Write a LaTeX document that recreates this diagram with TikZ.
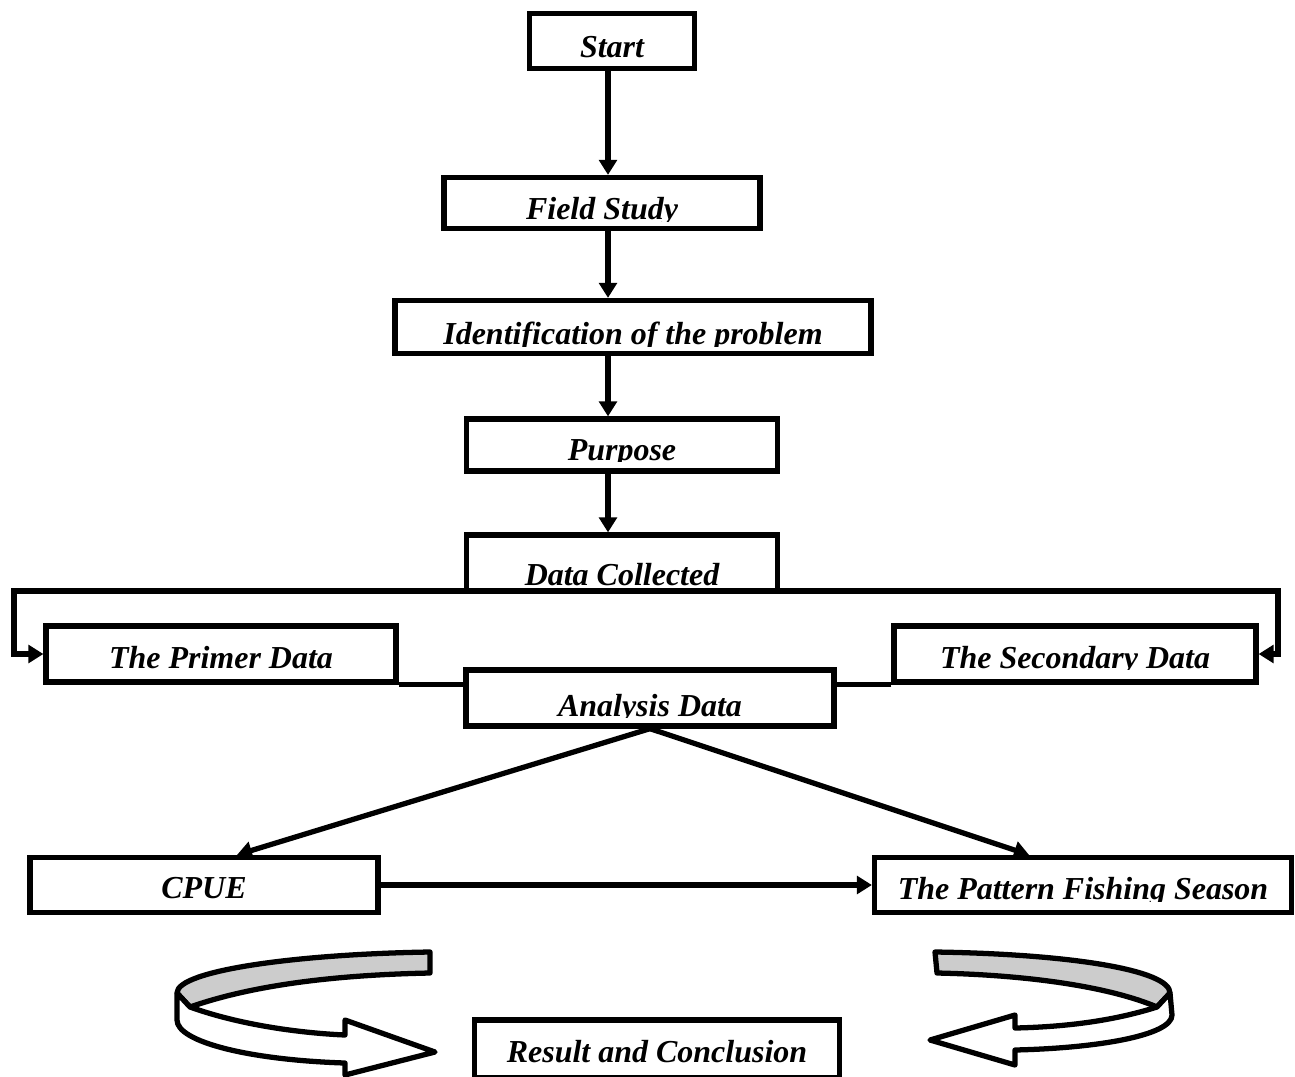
\documentclass[tikz,border=0pt]{standalone}
\usepackage{fontspec}
\setmainfont{Liberation Serif}
\usetikzlibrary{arrows.meta,calc}

\tikzset{
  stage/.style 2 args={draw, line width=3pt, inner sep=0pt, path picture={
      \node (stage-label) [anchor=base] at ([yshift=#2]path picture bounding box.south) {#1};
      \fill[white] (path picture bounding box.south west)
        rectangle ([yshift=#2-0.04cm]path picture bounding box.south east);}},
  flow/.style={line width=3pt, -{Triangle[length=8.5pt,width=10pt]}},
  link/.style={line width=3pt},
  turn/.style={line width=3pt, line join=round},
}

\begin{document}
\begin{tikzpicture}[x=0.02cm, y=-0.02cm, font=\fontsize{18.2}{21}\selectfont\bfseries\itshape]
  \useasboundingbox (0,0) rectangle (1295,1076);

  \node (start) [stage={Start}{0.22cm}, minimum width=3.3cm, minimum height=1.1cm] at (612,41) {};
  \node (field-study) [stage={Field Study}{0.18cm}, minimum width=6.32cm, minimum height=1.02cm] at (602,203) {};
  \node (identification) [stage={Identification of the problem}{0.18cm}, minimum width=9.52cm, minimum height=1.06cm] at (633,327) {};
  \node (purpose) [stage={Purpose}{0.22cm}, minimum width=6.22cm, minimum height=1.04cm] at (622,445) {};
  \node (data-collected) [stage={Data Collected}{0.12cm}, minimum width=6.22cm, minimum height=1.12cm] at (622,563) {};

  \node (primer) [stage={The Primer Data}{0.28cm}, minimum width=7cm, minimum height=1.12cm] at (221,654) {};
  \node (secondary) [stage={The Secondary Data}{0.28cm}, minimum width=7.24cm, minimum height=1.12cm] at (1075,654) {};
  \node (analysis) [stage={Analysis Data}{0.2cm}, minimum width=7.36cm, minimum height=1.12cm] at (650,698) {};

  \node (cpue) [stage={CPUE}{0.28cm}, minimum width=6.96cm, minimum height=1.1cm] at (204,885) {};
  \node (pattern) [stage={The Pattern Fishing Season}{0.26cm}, minimum width=8.34cm, minimum height=1.1cm] at (1083,885) {};
  \node (result) [stage={Result and Conclusion}{0.32cm}, minimum width=7.3cm, minimum height=1.16cm] at (657,1049) {};

  \coordinate (spine) at (608,0);
  \coordinate (left-rail) at (14,0);
  \coordinate (right-rail) at (1278,0);

  % main line down
  \draw[flow] (start.south -| spine) -- (field-study.north -| spine);
  \draw[flow] (field-study.south -| spine) -- (identification.north -| spine);
  \draw[flow] (identification.south -| spine) -- (purpose.north -| spine);
  \draw[flow] (purpose.south -| spine) -- (data-collected.north -| spine);

  % split to both data sources
  \draw[flow] ([yshift=1.5pt]data-collected.south west) -- ([yshift=1.5pt]left-rail |- data-collected.south) |- (primer.west);
  \draw[flow] ([yshift=1.5pt]data-collected.south east) -- ([yshift=1.5pt]right-rail |- data-collected.south) |- (secondary.east);
  \draw[link] (primer.south east) -- (primer.south east -| analysis.west);
  \draw[link] (secondary.south west) -- (secondary.south west -| analysis.east);

  \draw[flow] (analysis.south) -- ($(cpue.north)+(33,0)$);
  \draw[flow] (analysis.south) -- ($(pattern.north)+(-54,0)$);
  \draw[flow] (cpue.east) -- (pattern.west);

  % turning arrows
  \filldraw[turn, fill=gray!40] (430,952) .. controls (300,954) and (177,970) .. (177,993)
    -- (190,1007) .. controls (250,986) and (330,975) .. (430,973) -- cycle;
  \filldraw[turn, fill=white] (177,993) -- (190,1007) .. controls (240,1025) and (300,1033) .. (345,1035)
    -- (345,1020) -- (435,1052) -- (345,1075) -- (345,1063)
    .. controls (250,1060) and (177,1042) .. (177,1020) -- cycle;
  \filldraw[turn, fill=gray!40] (935,952) .. controls (1070,954) and (1170,970) .. (1170,993)
    -- (1157,1007) .. controls (1110,987) and (1030,975) .. (937,973) -- cycle;
  \filldraw[turn, fill=white] (1170,993) -- (1157,1007) .. controls (1110,1022) and (1060,1027) .. (1015,1028)
    -- (1015,1015) -- (930,1040) -- (1015,1065) -- (1015,1050)
    .. controls (1100,1048) and (1172,1035) .. (1172,1015) -- cycle;
\end{tikzpicture}
\end{document}
